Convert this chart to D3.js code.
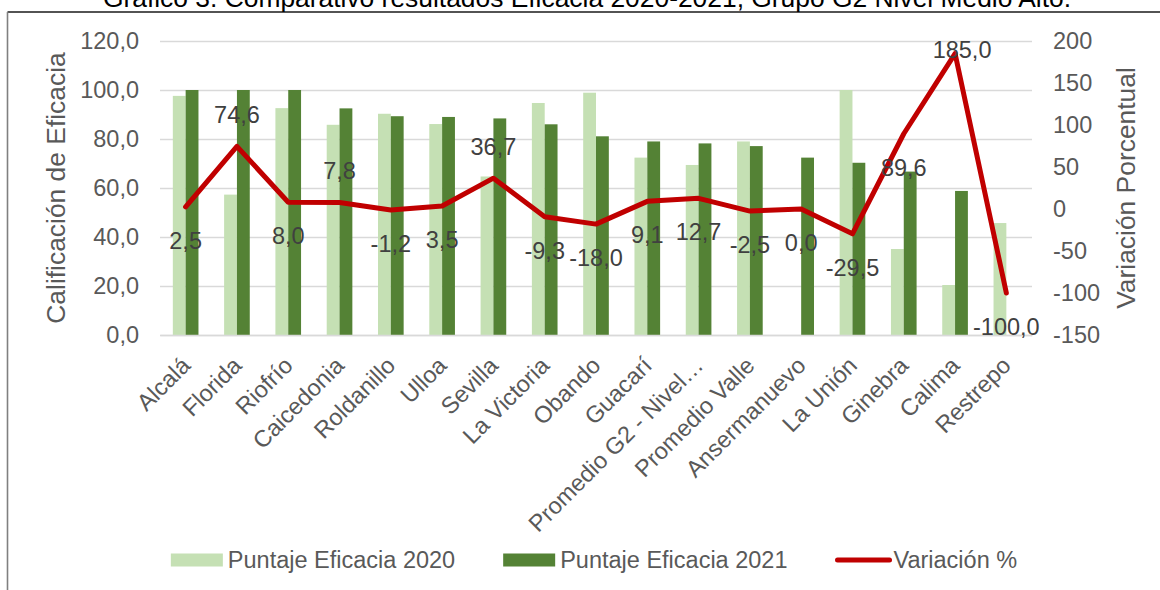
<!DOCTYPE html>
<html>
<head>
<meta charset="utf-8">
<script src="https://cdn.jsdelivr.net/npm/d3@7"></script>
<style>
  html, body { margin: 0; padding: 0; background: #ffffff; }
  svg { display: block; font-family: Arial, "Liberation Sans", sans-serif; }
</style>
</head>
<body>
<svg id="chart" width="1160" height="590"></svg>
<script>
// ---------------- DATA ----------------
const title = "Gráfico 3. Comparativo resultados Eficacia 2020-2021, Grupo G2 Nivel Medio Alto.";
const categories = ["Alcalá", "Florida", "Riofrío", "Caicedonia", "Roldanillo", "Ulloa", "Sevilla",
  "La Victoria", "Obando", "Guacarí", "Promedio G2 - Nivel…", "Promedio Valle", "Ansermanuevo",
  "La Unión", "Ginebra", "Calima", "Restrepo"];
const seriesNames = ["Puntaje Eficacia 2020", "Puntaje Eficacia 2021", "Variación %"];
const score2020 = [97.6, 57.3, 92.6, 85.8, 90.3, 86.1, 64.7, 94.7, 98.9, 72.4, 69.4, 79.0, 0, 100.0, 35.1, 20.4, 45.7];
const score2021 = [100.0, 100.0, 100.0, 92.5, 89.3, 89.0, 88.4, 86.0, 81.1, 79.0, 78.2, 77.1, 72.4, 70.3, 66.7, 58.8, 0];
const variation = [2.5, 74.6, 8.0, 7.8, -1.2, 3.5, 36.7, -9.3, -18.0, 9.1, 12.7, -2.5, 0.0, -29.5, 89.6, 185.0, -100.0];
const labelPlacement = ["below", "above", "below", "above", "below", "below", "above", "below", "below",
  "below", "below", "below", "below", "below", "below", "center", "below"];
const leftTicks = [0, 20, 40, 60, 80, 100, 120];
const rightTicks = [-150, -100, -50, 0, 50, 100, 150, 200];
const leftTitle = "Calificación de Eficacia";
const rightTitle = "Variación Porcentual";

// ---------------- STYLE ----------------
const colLight = "#c5e0b4", colDark = "#548235", colLine = "#c00000";
const colGrid = "#d9d9d9", colTick = "#595959", colLabel = "#404040";
const fs = 23.5;

const svg = d3.select("#chart");
const plot = { left: 160, right: 1032, top: 41, bottom: 335 };

const loc = d3.formatLocale({ decimal: ",", thousands: ".", grouping: [3], currency: ["$", ""], minus: "-" });
const f1 = loc.format(".1f"), f0 = loc.format("d");

const x = d3.scaleBand().domain(categories).range([plot.left, plot.right]).padding(0);
const bw = x.bandwidth();
const xs = d3.scaleBand().domain(["2020", "2021"]).range([0, bw * 0.5]).padding(0);
const yL = d3.scaleLinear().domain([0, 120]).range([plot.bottom, plot.top]);
const yR = d3.scaleLinear().domain([-150, 200]).range([plot.bottom, plot.top]);

// frame
svg.append("line").attr("x1", 7.5).attr("x2", 1160).attr("y1", 12).attr("y2", 12)
  .attr("stroke", "#1a1a1a").attr("stroke-width", 1.6);
svg.append("line").attr("x1", 7.5).attr("x2", 7.5).attr("y1", 12).attr("y2", 590)
  .attr("stroke", "#808080").attr("stroke-width", 1.6);

// title
svg.append("text").attr("x", 587).attr("y", 7).attr("text-anchor", "middle")
  .attr("font-size", 26.4).attr("fill", "#000").text(title);

// gridlines
const grid = svg.append("g").attr("transform", `translate(${plot.left},0)`)
  .call(d3.axisLeft(yL).tickValues(leftTicks).tickSize(-(plot.right - plot.left)).tickFormat(""));
grid.select(".domain").remove();
grid.selectAll("line").attr("stroke", colGrid).attr("stroke-width", 1.5);

// left axis
const ax = svg.append("g").attr("transform", `translate(${plot.left},0)`)
  .call(d3.axisLeft(yL).tickValues(leftTicks).tickSize(0).tickPadding(21).tickFormat(f1));
ax.select(".domain").remove();
ax.selectAll("text").attr("font-size", fs).attr("fill", colTick).attr("font-family", null);

// right axis
const ar = svg.append("g").attr("transform", `translate(${plot.right},0)`)
  .call(d3.axisRight(yR).tickValues(rightTicks).tickSize(0).tickPadding(21).tickFormat(f0));
ar.select(".domain").remove();
ar.selectAll("text").attr("font-size", fs).attr("fill", colTick).attr("font-family", null);

// bars
const bars = svg.append("g");
categories.forEach((c, i) => {
  [["2020", score2020[i], colLight], ["2021", score2021[i], colDark]].forEach(([s, v, col]) => {
    if (v > 0) bars.append("rect")
      .attr("x", x(c) + bw * 0.25 + xs(s)).attr("width", xs.bandwidth())
      .attr("y", yL(v)).attr("height", yL(0) - yL(v)).attr("fill", col);
  });
});

// x axis
const axb = svg.append("g").attr("transform", `translate(0,${plot.bottom})`)
  .call(d3.axisBottom(x).tickSize(0).tickPadding(0));
axb.select(".domain").attr("stroke", colGrid).attr("stroke-width", 1.5);
axb.selectAll("text").attr("font-size", fs).attr("fill", colTick).attr("font-family", null)
  .attr("text-anchor", "end").attr("x", 0).attr("y", 0).attr("dy", 0)
  .attr("transform", "translate(6,32) rotate(-45)");

// line
const line = d3.line().x((d, i) => x(categories[i]) + bw / 2).y(d => yR(d));
svg.append("path").datum(variation).attr("d", line).attr("fill", "none")
  .attr("stroke", colLine).attr("stroke-width", 5).attr("stroke-linejoin", "round").attr("stroke-linecap", "round");

// data labels
const offs = { below: [0, 34], above: [0, -31], center: [7, -4] };
svg.append("g").selectAll("text").data(variation).join("text")
  .attr("x", (d, i) => x(categories[i]) + bw / 2 + offs[labelPlacement[i]][0])
  .attr("y", (d, i) => yR(d) + offs[labelPlacement[i]][1])
  .attr("dominant-baseline", "central").attr("text-anchor", "middle")
  .attr("font-size", fs).attr("fill", colLabel).text(d => f1(d));

// axis titles
svg.append("text").attr("transform", `translate(65,${(plot.top + plot.bottom) / 2}) rotate(-90)`)
  .attr("text-anchor", "middle").attr("font-size", 26.4).attr("fill", colTick).text(leftTitle);
svg.append("text").attr("transform", `translate(1135,${(plot.top + plot.bottom) / 2}) rotate(-90)`)
  .attr("text-anchor", "middle").attr("font-size", 26.4).attr("fill", colTick).text(rightTitle);

// legend
const legY = 560;
const leg = svg.append("g");
let cx = 0;
const items = [];
seriesNames.forEach((name, i) => {
  const g = leg.append("g").attr("transform", `translate(${cx},0)`);
  if (i < 2) {
    g.append("rect").attr("x", 0).attr("y", legY - 6.5).attr("width", 52).attr("height", 13)
      .attr("fill", i === 0 ? colLight : colDark);
  } else {
    g.append("line").attr("x1", 2).attr("x2", 54).attr("y1", legY).attr("y2", legY)
      .attr("stroke", colLine).attr("stroke-width", 5).attr("stroke-linecap", "round");
  }
  const t = g.append("text").attr("x", i < 2 ? 57 : 58).attr("y", legY).attr("dominant-baseline", "central")
    .attr("font-size", fs).attr("fill", colTick).text(name);
  const w = (i < 2 ? 57 : 58) + t.node().getComputedTextLength();
  cx += w + 48;
});
const legW = cx - 48;
leg.attr("transform", `translate(${594 - legW / 2},0)`);
</script>
</body>
</html>
